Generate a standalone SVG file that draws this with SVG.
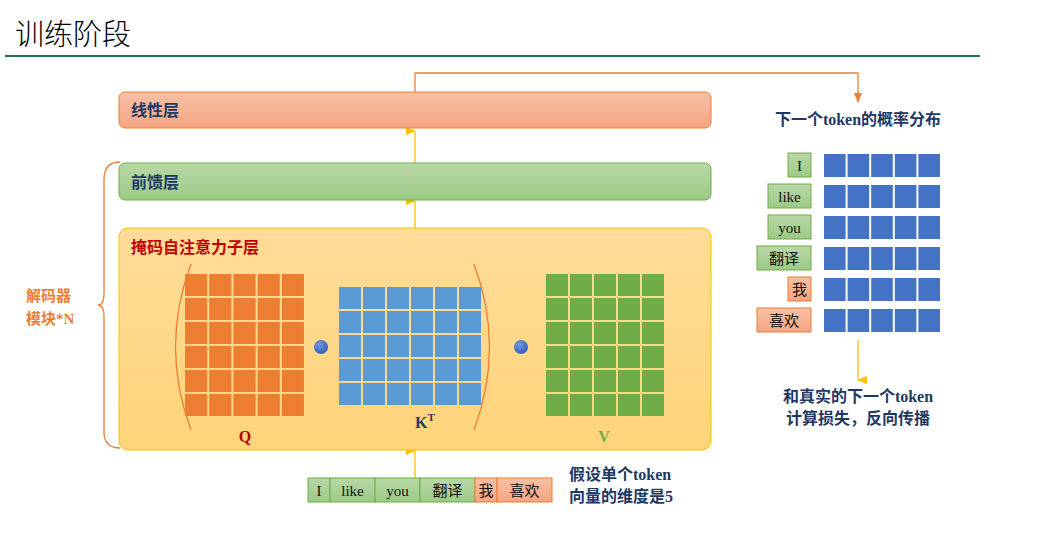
<svg xmlns="http://www.w3.org/2000/svg" width="1052" height="559" viewBox="0 0 1052 559">
<defs>
<linearGradient id="gOr" x1="0" y1="0" x2="0" y2="1"><stop offset="0" stop-color="#f6c0a6"/><stop offset="1" stop-color="#f4a582"/></linearGradient>
<linearGradient id="gGr" x1="0" y1="0" x2="0" y2="1"><stop offset="0" stop-color="#b8d8a8"/><stop offset="1" stop-color="#9cca85"/></linearGradient>
<linearGradient id="gYe" x1="0" y1="0" x2="0" y2="1"><stop offset="0" stop-color="#ffdc98"/><stop offset="1" stop-color="#ffd47a"/></linearGradient>
<radialGradient id="gDot" cx="0.4" cy="0.35" r="0.7"><stop offset="0" stop-color="#6f9ae0"/><stop offset="1" stop-color="#2f5cb8"/></radialGradient>
<marker id="ay" markerWidth="8" markerHeight="10" refX="4" refY="9" orient="auto-start-reverse" markerUnits="userSpaceOnUse" viewBox="0 0 8 10"><path d="M0,0 L8,0 L4,10 z" fill="#ffc000"/></marker>
<marker id="ao" markerWidth="8" markerHeight="10" refX="4" refY="9" markerUnits="userSpaceOnUse" viewBox="0 0 8 10"><path d="M0,0 L8,0 L4,10 z" fill="#ed7d31"/></marker>
<pattern id="pQ" x="184" y="273" width="24.2" height="24" patternUnits="userSpaceOnUse"><rect x="1" y="1" width="22.2" height="22" fill="#ed7d31"/></pattern>
<pattern id="pK" x="338" y="286" width="24" height="24" patternUnits="userSpaceOnUse"><rect x="1" y="1" width="22" height="22" fill="#5b9bd5"/></pattern>
<pattern id="pV" x="545" y="273" width="24" height="24" patternUnits="userSpaceOnUse"><rect x="1" y="1" width="22" height="22" fill="#70ad47"/></pattern>
<pattern id="pB" x="823" y="0" width="23.6" height="30" patternUnits="userSpaceOnUse"><rect x="1" y="0" width="21.6" height="30" fill="#4472c4"/></pattern>
</defs>
<style>
.t{font-family:"Liberation Serif","Noto Sans CJK SC",serif;font-weight:bold;}
.lab{font-size:16px;fill:#1f3864;}
.tok{font-size:15px;fill:#111;font-family:"Liberation Serif","Noto Sans CJK SC",serif;}
.cg{fill:url(#gGr);stroke:#70ad47;stroke-width:1;}
.co{fill:url(#gOr);stroke:#ed7d31;stroke-width:1;}
</style>
<rect width="1052" height="559" fill="#fff"/>
<text x="15" y="45" font-family="'Noto Sans CJK SC',sans-serif" font-size="29" font-weight="300" fill="#000">训练阶段</text>
<line x1="5" y1="56" x2="980" y2="56" stroke="#1f6f5a" stroke-width="2"/>

<g id="connectors" fill="none">
<line x1="415" y1="163" x2="415" y2="131" stroke="#ffc000" stroke-width="1.3" marker-end="url(#ay)"/>
<line x1="415" y1="228" x2="415" y2="201" stroke="#ffc000" stroke-width="1.3" marker-end="url(#ay)"/>
<line x1="415" y1="478" x2="415" y2="451" stroke="#ffc000" stroke-width="1.3" marker-end="url(#ay)"/>
<path d="M415,92 V73 H858 V102" stroke="#ed7d31" stroke-width="1.3" marker-end="url(#ao)"/>
<line x1="858" y1="340" x2="858" y2="380" stroke="#ffc000" stroke-width="1.3" marker-end="url(#ay)"/>
<path d="M120,162 Q104,162 104,180 V294 Q104,305 98,305 Q104,305 104,316 V432 Q104,448 120,448" stroke="#ed7d31" stroke-width="1.3"/>
</g>

<g id="linear"><rect x="119" y="92" width="592" height="36" rx="6" class="co"/><text x="131" y="116" class="t lab">线性层</text></g>
<g id="ffn"><rect x="119" y="163" width="592" height="37" rx="6" class="cg"/><text x="131" y="188" class="t lab">前馈层</text></g>
<g id="attn">
<rect x="119" y="228" width="592" height="222" rx="9" fill="url(#gYe)" stroke="#ffc000" stroke-width="1"/>
<text x="131" y="253" class="t" font-size="16" fill="#c00000">掩码自注意力子层</text>
<rect x="184" y="273" width="121" height="144" fill="url(#pQ)"/>
<rect x="338" y="286" width="144" height="120" fill="url(#pK)"/>
<rect x="545" y="273" width="120" height="144" fill="url(#pV)"/>
<circle cx="321" cy="347" r="7" fill="url(#gDot)"/>
<circle cx="521" cy="347" r="7" fill="url(#gDot)"/>
<path d="M191,264 Q160,347 191,430" fill="none" stroke="#ed7d31" stroke-width="1.3"/>
<path d="M474,264 Q505,347 474,430" fill="none" stroke="#ed7d31" stroke-width="1.3"/>
<text x="245" y="442" class="t" font-size="16" fill="#c00000" text-anchor="middle">Q</text>
<text x="415" y="428" class="t" font-size="16" fill="#1f3864">K<tspan dy="-7" font-size="11">T</tspan></text>
<text x="604" y="442" class="t" font-size="16" fill="#70ad47" text-anchor="middle">V</text>
</g>
<g id="decoder-label"><text x="26" y="301" class="t" font-size="15" fill="#ed7d31">解码器</text><text x="26" y="324" class="t" font-size="15" fill="#ed7d31">模块*N</text></g>

<g id="input">
<rect x="308" y="478" width="22" height="24" class="cg"/><text x="319" y="496" class="tok" text-anchor="middle">I</text>
<rect x="330" y="478" width="45" height="24" class="cg"/><text x="352.5" y="496" class="tok" text-anchor="middle">like</text>
<rect x="375" y="478" width="45" height="24" class="cg"/><text x="397.5" y="496" class="tok" text-anchor="middle">you</text>
<rect x="420" y="478" width="55" height="24" class="cg"/><text x="447.5" y="496" class="tok" text-anchor="middle">翻译</text>
<rect x="475" y="478" width="22" height="24" class="co"/><text x="486" y="496" class="tok" text-anchor="middle">我</text>
<rect x="497" y="478" width="55" height="24" class="co"/><text x="524.5" y="496" class="tok" text-anchor="middle">喜欢</text>
</g>
<g id="note"><text x="569" y="480" class="t lab" font-size="15">假设单个token</text><text x="569" y="502" class="t lab" font-size="15">向量的维度是5</text></g>

<g id="output">
<text x="858" y="125" class="t lab" font-size="15" text-anchor="middle">下一个token的概率分布</text>
<rect x="788" y="153" width="23" height="24" class="cg"/><text x="799.5" y="171" class="tok" text-anchor="middle">I</text>
<rect x="768" y="184" width="43" height="24" class="cg"/><text x="789.5" y="202" class="tok" text-anchor="middle">like</text>
<rect x="768" y="215" width="43" height="24" class="cg"/><text x="789.5" y="233" class="tok" text-anchor="middle">you</text>
<rect x="757" y="246" width="54" height="24" class="cg"/><text x="784" y="264" class="tok" text-anchor="middle">翻译</text>
<rect x="788" y="277" width="23" height="24" class="co"/><text x="799.5" y="295" class="tok" text-anchor="middle">我</text>
<rect x="757" y="308" width="54" height="24" class="co"/><text x="784" y="326" class="tok" text-anchor="middle">喜欢</text>
<rect x="823" y="154" width="118" height="23" fill="url(#pB)"/>
<rect x="823" y="185" width="118" height="23" fill="url(#pB)"/>
<rect x="823" y="216" width="118" height="23" fill="url(#pB)"/>
<rect x="823" y="247" width="118" height="23" fill="url(#pB)"/>
<rect x="823" y="278" width="118" height="23" fill="url(#pB)"/>
<rect x="823" y="309" width="118" height="23" fill="url(#pB)"/>
<text x="858" y="402" class="t lab" font-size="15" text-anchor="middle">和真实的下一个token</text>
<text x="858" y="424" class="t lab" font-size="15" text-anchor="middle">计算损失，反向传播</text>
</g>
</svg>
